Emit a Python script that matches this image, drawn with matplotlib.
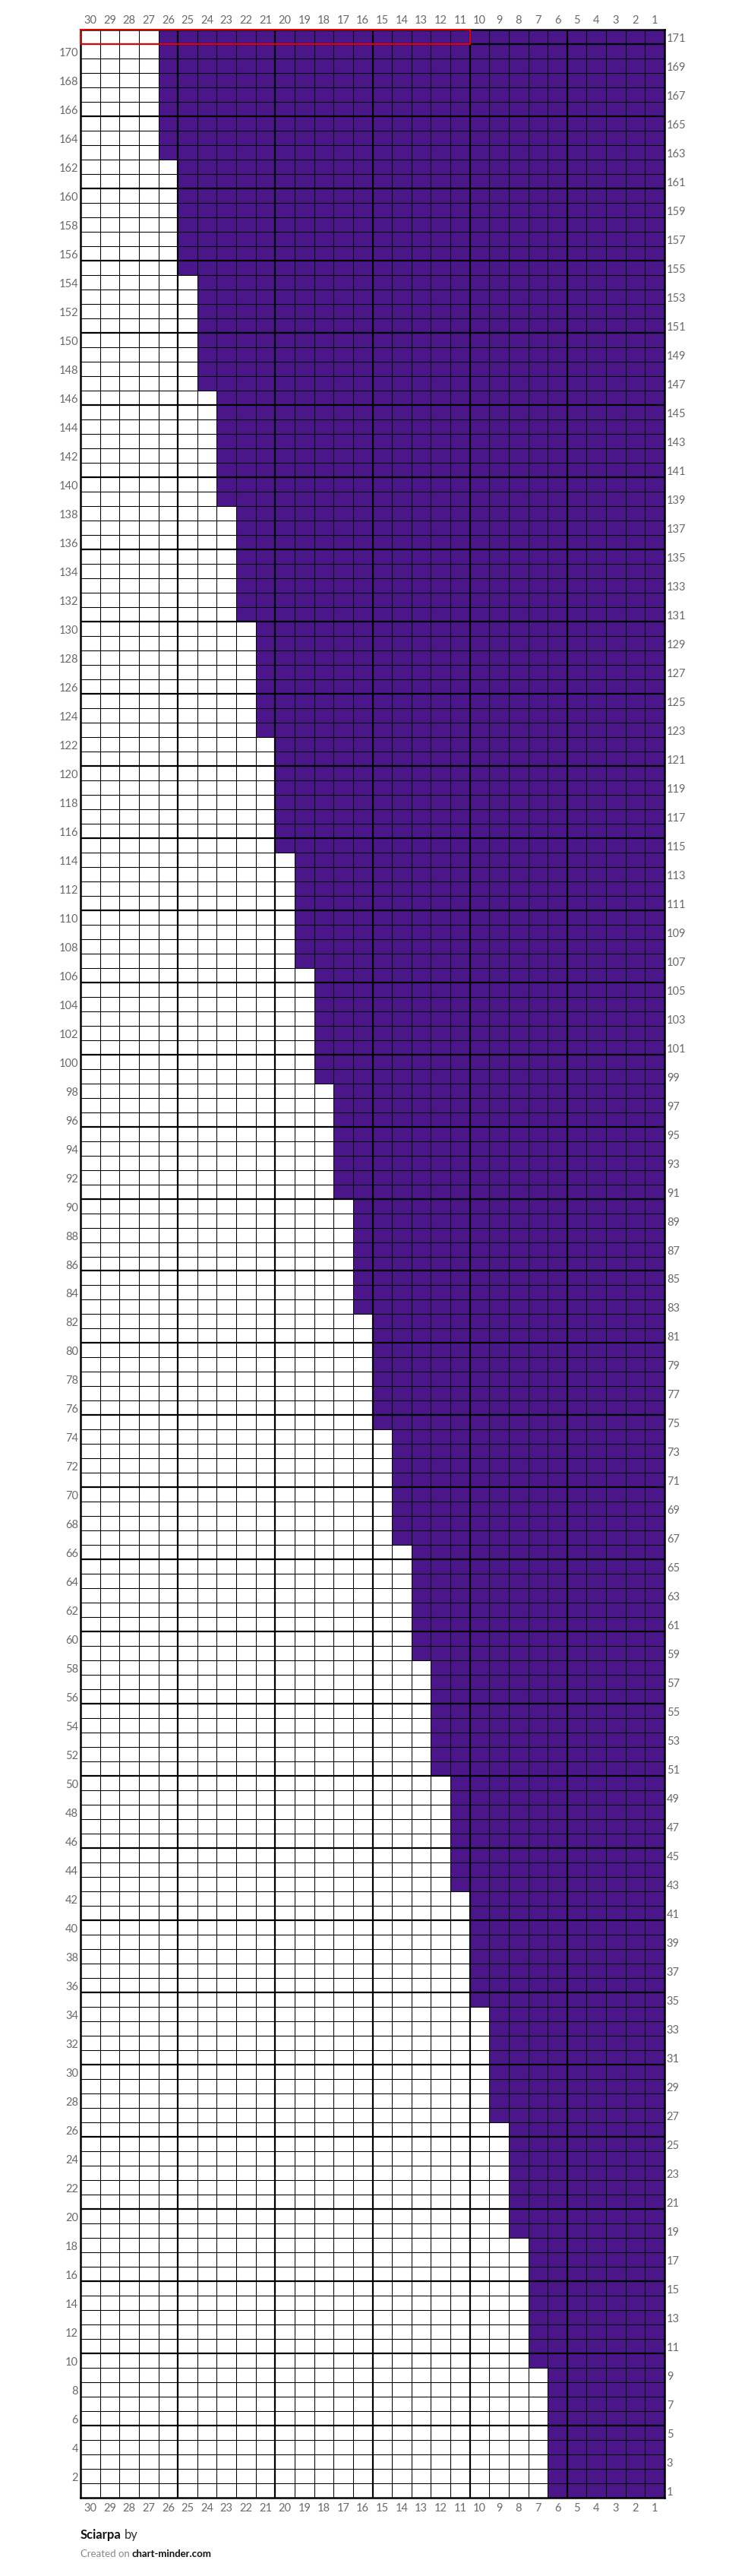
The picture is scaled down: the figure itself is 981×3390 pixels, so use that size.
import numpy as np
import matplotlib
matplotlib.use("Agg")
import matplotlib.pyplot as plt
from matplotlib.colors import ListedColormap
from matplotlib.patches import Rectangle

# chart data
n_cols = 30
n_rows = 171
# first row of each block and how many cells (counted from column 1) are purple
block_start_rows = [1, 10, 19, 27, 35, 43, 51, 59, 67, 75, 83, 91, 99,
                    107, 115, 123, 131, 139, 147, 155, 163]
purple_counts = [6, 7, 8, 9, 10, 11, 12, 13, 14, 15, 16, 17, 18,
                 19, 20, 21, 22, 23, 24, 25, 26]
highlight_row = 171
highlight_cols = (11, 30)

title = "Sciarpa"
credit_site = "chart-minder.com"

PURPLE = "#4a168a"
LABEL_GREY = "#6a6a6a"


def build_grid():
    grid = np.zeros((n_rows, n_cols))
    for i, start in enumerate(block_start_rows):
        end = block_start_rows[i + 1] - 1 if i + 1 < len(block_start_rows) else n_rows
        for row in range(start, end + 1):
            grid[row - 1, :purple_counts[i]] = 1
    return grid


def draw_chart(grid, out_file):
    plt.rcParams['font.family'] = ['Lato', 'DejaVu Sans']
    W, H = 981, 3391
    fig = plt.figure(figsize=(W / 100, H / 100), dpi=100)
    left, right, top, bottom = 106, 875, 40, 3288
    ax = fig.add_axes([left / W, 1 - bottom / H, (right - left) / W, (bottom - top) / H])

    cols = np.arange(1, n_cols + 1)
    rows = np.arange(1, n_rows + 1)
    ax.pcolormesh(np.append(cols - 0.5, n_cols + 0.5), np.append(rows - 0.5, n_rows + 0.5),
                  grid, cmap=ListedColormap(["white", PURPLE]), vmin=0, vmax=1)
    ax.set_xlim(n_cols + 0.5, 0.5)
    ax.set_ylim(0.5, n_rows + 0.5)

    # grid lines, heavier every 5 stitches / rows
    for b in range(1, n_cols):
        ax.axvline(b + 0.5, color="black", lw=1.6 if b % 5 == 0 else 0.75, zorder=2)
    for b in range(1, n_rows):
        ax.axhline(b + 0.5, color="black", lw=1.6 if b % 5 == 0 else 0.75, zorder=2)
    for s in ax.spines.values():
        s.set_linewidth(1.8)
        s.set_zorder(3)

    # red outline round the highlighted row
    c0, c1 = highlight_cols
    ax.add_patch(Rectangle((c0 - 0.5, highlight_row - 0.5), c1 - c0 + 1, 1,
                           fill=False, ec="#ee0000", lw=1.4, zorder=4, clip_on=False))

    # column numbers top and bottom
    ax.set_xticks(cols)
    ax.set_xticklabels([str(c) for c in cols])
    ax.tick_params(axis="x", top=True, labeltop=True, bottom=True, labelbottom=True,
                   length=0, pad=4, labelsize=10.5, labelcolor=LABEL_GREY)
    # even rows on the left, odd rows on the right
    ax.set_yticks([r for r in rows if r % 2 == 0])
    ax.set_yticklabels([str(r) for r in rows if r % 2 == 0])
    ax.tick_params(axis="y", left=True, labelleft=True, length=0, pad=2,
                   labelsize=10.5, labelcolor=LABEL_GREY)
    ax2 = ax.twinx()
    ax2.set_ylim(ax.get_ylim())
    ax2.set_yticks([r for r in rows if r % 2 == 1])
    ax2.set_yticklabels([str(r) for r in rows if r % 2 == 1])
    ax2.tick_params(axis="y", length=0, pad=2, labelsize=10.5, labelcolor=LABEL_GREY)
    for s in ax2.spines.values():
        s.set_visible(False)

    # footer
    renderer = fig.canvas.get_renderer()
    x0 = left / W
    t1 = fig.text(x0, 1 - 3341 / H, title, fontsize=12, fontweight="bold", color="#111111")
    bb = t1.get_window_extent(renderer)
    fig.text((bb.x1 + 4) / W, 1 - 3341 / H, "by", fontsize=12, color="#333333")
    t2 = fig.text(x0, 1 - 3365 / H, "Created on", fontsize=9.5, color="#888888")
    bb = t2.get_window_extent(renderer)
    fig.text((bb.x1 + 3) / W, 1 - 3365 / H, credit_site, fontsize=9.5,
             fontweight="bold", color="#111111")

    fig.savefig(out_file, dpi=100)
    plt.close(fig)


def main():
    grid = build_grid()
    draw_chart(grid, "out.png")


if __name__ == "__main__":
    main()
